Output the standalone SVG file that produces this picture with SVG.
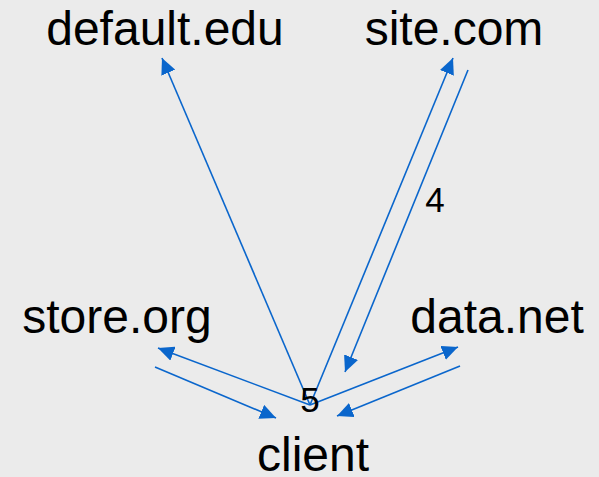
<svg xmlns="http://www.w3.org/2000/svg" width="599" height="477" viewBox="0 0 599 477">
<style>
.lbl{font-family:"Liberation Sans",Arial,sans-serif;font-size:48px;fill:#000;text-anchor:middle}
.num{font-family:"Liberation Sans",Arial,sans-serif;font-size:35px;fill:#000;text-anchor:middle}
.e{stroke:#0a66cc;stroke-width:1.6;fill:none;marker-end:url(#ah)}
</style>
<defs>
<marker id="ah" viewBox="0 0 16 15" refX="16" refY="7.5" markerWidth="16" markerHeight="15" markerUnits="userSpaceOnUse" orient="auto">
<path d="M0,0 L16,7.5 L0,15 z" fill="#0a66cc"/>
</marker>
</defs>
<rect width="599" height="477" fill="#ebebeb"/>
<g id="connectors">
<line class="e" x1="310" y1="405" x2="162" y2="58"/>
<line class="e" x1="310" y1="405" x2="453" y2="58"/>
<line class="e" x1="468" y1="70" x2="345" y2="372"/>
<line class="e" x1="310" y1="405" x2="158" y2="348"/>
<line class="e" x1="155" y1="367" x2="276" y2="418"/>
<line class="e" x1="310" y1="405" x2="458" y2="347"/>
<line class="e" x1="460" y1="366" x2="337" y2="416"/>
<text class="num" x="435" y="212">4</text>
<text class="num" x="310" y="412">5</text>
</g>
<g id="default.edu"><text class="lbl" x="165" y="45">default.edu</text></g>
<g id="site.com"><text class="lbl" x="454" y="45">site.com</text></g>
<g id="store.org"><text class="lbl" x="117" y="333">store.org</text></g>
<g id="data.net"><text class="lbl" x="497" y="333">data.net</text></g>
<g id="client"><text class="lbl" x="313" y="471">client</text></g>
</svg>
